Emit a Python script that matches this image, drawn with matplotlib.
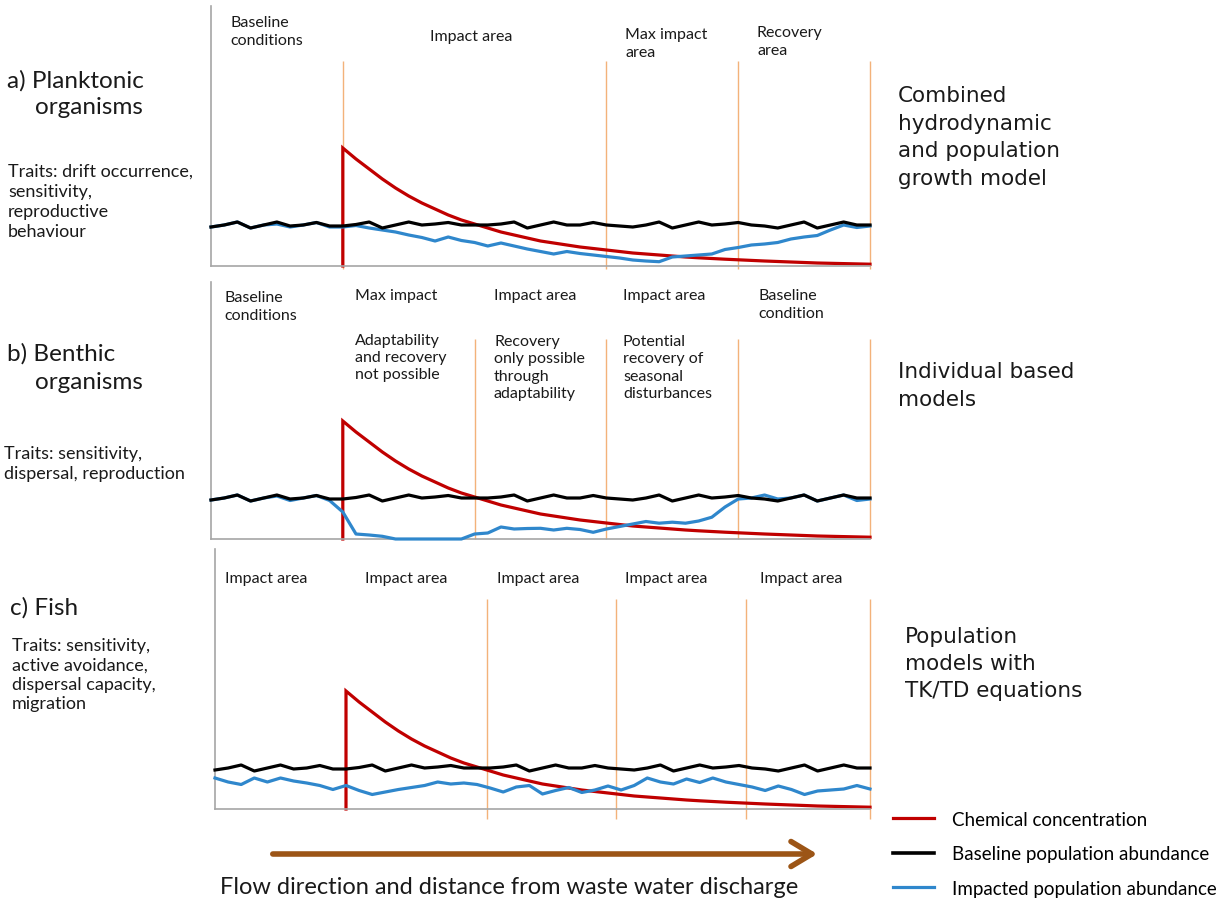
import matplotlib
matplotlib.use("Agg")
import matplotlib.pyplot as plt
from matplotlib.patches import FancyArrowPatch
from matplotlib.lines import Line2D

W, H = 1229, 903

# ---------------- data ----------------
distance = list(range(51))

baseline = [39, 41, 44, 38, 41, 44, 40, 41, 43.5, 40,
            40, 41.5, 44, 38, 41, 44, 41, 42, 43.5, 41,
            41, 41, 42, 44, 38, 41, 44, 41, 41, 43.5,
            41, 40, 39, 41, 44, 38, 41, 44, 41, 42,
            43.5, 41, 40, 38, 41, 44, 38, 41, 44, 41, 41]

chem_x = [10, 10, 11, 12, 13, 14, 15, 16, 17, 18, 19, 20, 21, 22, 23, 24, 25, 26, 27, 28, 29, 30,
          31, 32, 33, 34, 35, 36, 37, 38, 39, 40, 41, 42, 43, 44, 45, 46, 47, 48, 49, 50]
chem_y = [0, 118, 107, 97, 87, 78, 70, 63, 57, 51, 46, 42, 38, 34, 31, 28, 25, 23, 21, 19, 17.5, 16,
          14.5, 13, 12, 11, 10, 9, 8.2, 7.5, 6.8, 6.2, 5.6, 5, 4.5, 4, 3.5, 3, 2.7, 2.4, 2.1, 1.8]

impact_a = [39, 41, 44, 38, 41, 42, 39, 41, 43.5, 39,
            39, 40.5, 38, 36, 34, 31, 28.5, 25, 29, 25.5,
            23.5, 20, 23, 20, 17, 14.5, 12, 14.5, 12.5, 11,
            9.5, 8, 6, 5, 4.3, 9, 10, 11, 12, 16.5,
            18.5, 21, 22, 23.5, 27, 29, 30.5, 36, 41, 38.5, 40]

impact_b = [39, 41, 44, 38, 41, 43, 38.5, 41, 43.5, 38.5,
            27, 5, 4, 2.7, 0, 0, 0, 0, 0, 0,
            5, 6, 12, 10, 10.5, 10.7, 9, 10.7, 9.5, 6.7,
            10, 12.5, 15, 17.5, 15.8, 16.8, 15.8, 18, 21.8, 32,
            40, 41, 44, 40, 41, 44, 38, 41, 44, 38.5, 40]

impact_c = [31, 27, 24.5, 31, 27, 31, 28, 26, 23.5, 19.5,
            23.5, 18.5, 14.5, 17, 19.5, 21.5, 23.5, 27, 25, 26,
            24.5, 21, 17, 22, 23.5, 15, 18.5, 21.5, 16.5, 19,
            23, 19, 23.5, 31, 27, 25, 30, 26.5, 31, 27,
            24.5, 22, 18.5, 23, 19.5, 14.5, 18, 19, 20, 23.5, 20]

zone_bounds_a = [10, 30, 40, 50]
zone_bounds_b = [20, 30, 40, 50]
zone_bounds_c = [20.75, 30.6, 40.5, 50]

legend_labels = ["Chemical concentration", "Baseline population abundance",
                 "Impacted population abundance"]

RED = "#C00000"
BLUE = "#2F87CC"
BLACK = "#000000"
ORANGE = "#F3B27A"
GRAY = "#A6A6A6"
BROWN = "#9C5516"

FONT = ["Lato", "DejaVu Sans"]
RFONT = ["DejaVu Sans"]

fig = plt.figure(figsize=(W / 100, H / 100), dpi=100)


def add_panel(left, right, top, bottom, impact, bounds, line_top, line_bottom):
    ax = fig.add_axes([left / W, 1 - bottom / H, (right - left) / W, (bottom - top) / H])
    ax.set_xlim(0, 50)
    ax.set_ylim(0, bottom - top)
    ax.set_xticks([])
    ax.set_yticks([])
    for s in ["top", "right"]:
        ax.spines[s].set_visible(False)
    for s in ["left", "bottom"]:
        ax.spines[s].set_color(GRAY)
        ax.spines[s].set_linewidth(1.2)
    ax.patch.set_alpha(0)
    ax.vlines(bounds, bottom - line_bottom, bottom - line_top, colors=ORANGE,
              linewidth=1.0, clip_on=False, zorder=1)
    ax.plot(chem_x, chem_y, color=RED, linewidth=2.3, zorder=2, clip_on=False,
            solid_joinstyle="miter")
    ax.plot(distance, impact, color=BLUE, linewidth=2.3, zorder=3, clip_on=False)
    ax.plot(distance, baseline, color=BLACK, linewidth=2.3, zorder=4, clip_on=False)
    return ax


add_panel(211, 870, 7, 267, impact_a, zone_bounds_a, 62, 270)
add_panel(211, 870, 283, 540, impact_b, zone_bounds_b, 340, 540)
add_panel(215, 870, 550, 810, impact_c, zone_bounds_c, 600, 820)


def T(x, y, s, size=11, family=FONT, spacing=None, ha="left"):
    """y = centre of the text block (pixels from top); spacing = line pitch in px."""
    ls = 1.2 if spacing is None else spacing / (size * 100 / 72)
    fig.text(x / W, 1 - y / H, s, fontsize=size, family=family, va="center", ha=ha,
             linespacing=ls, color="#1a1a1a")


PS = 11.5      # panel label size
PP = 20.5      # panel label pitch
TS = 13.0      # traits size

# panel a texts
T(230, 32, "Baseline\nconditions", PS, spacing=PP)
T(430, 37, "Impact area", PS)
T(625, 44, "Max impact\narea", PS, spacing=PP)
T(757, 42, "Recovery\narea", PS, spacing=PP)
T(7, 81, "a) Planktonic", 17.5)
T(35, 108, "organisms", 17.5)
T(8, 202, "Traits: drift occurrence,\nsensitivity,\nreproductive\nbehaviour", TS, spacing=23.7)
T(898, 137.5, "Combined\nhydrodynamic\nand population\ngrowth model", 15.5, family=RFONT, spacing=31.5)

# panel b texts
T(224, 307, "Baseline\nconditions", PS, spacing=PP)
T(355, 296, "Max impact", PS)
T(355, 358, "Adaptability\nand recovery\nnot possible", PS, spacing=PP)
T(494, 296, "Impact area", PS)
T(494, 368, "Recovery\nonly possible\nthrough\nadaptability", PS, spacing=PP)
T(623, 296, "Impact area", PS)
T(623, 368, "Potential\nrecovery of\nseasonal\ndisturbances", PS, spacing=PP)
T(758, 305, "Baseline\ncondition", PS, spacing=PP)
T(7, 354, "b) Benthic", 17.5)
T(35, 383, "organisms", 17.5)
T(4, 464, "Traits: sensitivity,\ndispersal, reproduction", TS, spacing=22.5)
T(898, 386, "Individual based\nmodels", 15.5, family=RFONT, spacing=31.5)

# panel c texts
for xx in [225, 365, 497, 625, 760]:
    T(xx, 579, "Impact area", PS)
T(10, 608, "c) Fish", 17.5)
T(12, 675, "Traits: sensitivity,\nactive avoidance,\ndispersal capacity,\nmigration", TS, spacing=22.5)
T(905, 664, "Population\nmodels with\nTK/TD equations", 15.5, family=RFONT, spacing=31)

# flow arrow
arrow = FancyArrowPatch((270 / W, 1 - 855 / H), (820 / W, 1 - 855 / H),
                        transform=fig.transFigure, arrowstyle="->,head_length=10,head_width=6",
                        color=BROWN, linewidth=4.0, mutation_scale=1.5)
fig.patches.append(arrow)
T(220, 888, "Flow direction and distance from waste water discharge", 17)

# legend
handles = [Line2D([], [], color=RED, linewidth=2.3),
           Line2D([], [], color=BLACK, linewidth=2.6),
           Line2D([], [], color=BLUE, linewidth=2.3)]
fig.legend(handles, legend_labels, loc="upper left",
           bbox_to_anchor=(893 / W, 1 - 812 / H), frameon=False,
           prop={"family": FONT, "size": 13.5}, handlelength=2.2,
           handletextpad=0.95, labelspacing=0.92, borderpad=0, borderaxespad=0)

fig.savefig("out.png", dpi=100, facecolor="white")
